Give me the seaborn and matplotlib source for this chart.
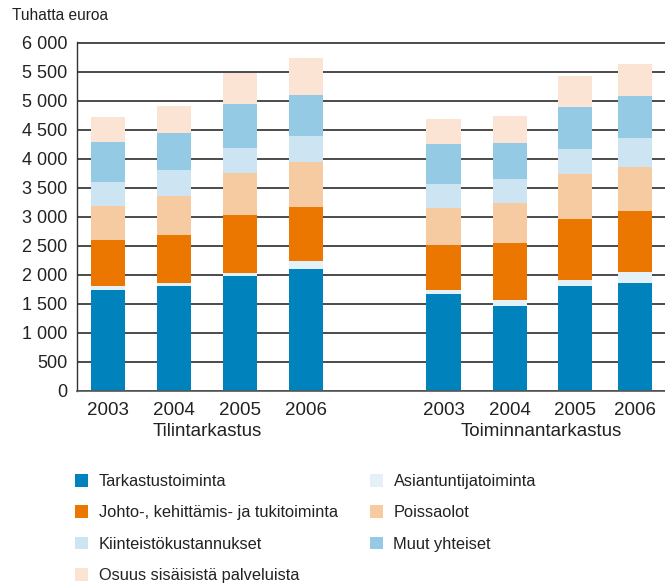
"""
Kustannukset toiminnoittain: Tilintarkastus ja Toiminnantarkastus 2003-2006
(pinottu pylväskaavio, tuhatta euroa)
"""

import numpy as np
import pandas as pd
import matplotlib
matplotlib.use("Agg")
import matplotlib.pyplot as plt
import seaborn as sns
from matplotlib.ticker import FuncFormatter
from matplotlib.patches import Patch

sns.set_theme(style="white")
plt.rcParams["font.family"] = ["Liberation Sans", "DejaVu Sans"]

# DATA (thousand euros)
# first four bars = Tilintarkastus 2003-2006, last four = Toiminnantarkastus 2003-2006
years = ["2003", "2004", "2005", "2006"]
groups = ["Tilintarkastus", "Toiminnantarkastus"]

tarkastus = [1740, 1805, 1980, 2100, 1665, 1460, 1805, 1855]
asiantuntija = [70, 50, 55, 140, 70, 105, 105, 190]
johto = [795, 835, 995, 935, 775, 985, 1050, 1050]
poissaolot = [575, 665, 725, 770, 640, 690, 780, 765]
kiinteisto = [425, 450, 435, 450, 415, 415, 425, 495]
muut = [690, 640, 755, 705, 690, 620, 725, 725]
osuus = [430, 465, 535, 640, 430, 465, 535, 550]

# stacking order, bottom -> top
series = [
    ("Tarkastustoiminta", tarkastus, "#0082bc"),
    ("Asiantuntijatoiminta", asiantuntija, "#e4f1f9"),
    ("Johto-, kehittämis- ja tukitoiminta", johto, "#ec7700"),
    ("Poissaolot", poissaolot, "#f7cba1"),
    ("Kiinteistökustannukset", kiinteisto, "#cde4f2"),
    ("Muut yhteiset", muut, "#95cae5"),
    ("Osuus sisäisistä palveluista", osuus, "#fce4d4"),
]
legend_order = [0, 2, 4, 6, 1, 3, 5]

# LAYOUT
W, H = 665, 585
x_pos = [0, 1, 2, 3, 5.09, 6.1, 7.09, 8]
bar_w = 0.52

df = pd.DataFrame({name: vals for name, vals, _ in series})
df["pos"] = x_pos
cum = df[[name for name, _, _ in series]].cumsum(axis=1)

fig = plt.figure(figsize=(W / 100, H / 100), dpi=100)
ax = fig.add_axes([77 / W, 1 - 390.7 / H, 1 - 77 / W, (390.7 - 41.5) / H])

width = bar_w / np.min(np.diff(x_pos))
for name, _, color in reversed(series):
    sns.barplot(x=df["pos"], y=cum[name], native_scale=True, orient="x",
                color=color, saturation=1, width=width, linewidth=0,
                errorbar=None, ax=ax)

ax.set_xlim(-0.47, 8.45)
ax.set_ylim(0, 6020)
ax.set_yticks(range(0, 6001, 500))
ax.yaxis.set_major_formatter(FuncFormatter(lambda v, _: f"{int(v):,}".replace(",", " ")))
ax.set_xticks(x_pos)
ax.set_xticklabels(years * 2)
ax.tick_params(axis="y", length=0, pad=7, labelsize=13, colors="#222222")
ax.tick_params(axis="x", length=0, pad=8, labelsize=13.5, colors="#222222")
ax.set_xlabel(""); ax.set_ylabel("")

ax.set_axisbelow(True)
ax.grid(axis="y", color="#1a1a1a", linewidth=1.1)
ax.grid(axis="x", visible=False)
for side in ["top", "right"]:
    ax.spines[side].set_visible(False)
ax.spines["left"].set_color("#333333")
ax.spines["bottom"].set_color("#555555")
ax.spines["left"].set_linewidth(1.0)
ax.spines["bottom"].set_linewidth(1.2)

# group labels under the years
for i, g in enumerate(groups):
    center = np.mean(x_pos[i * 4:(i + 1) * 4])
    xf = fig.transFigure.inverted().transform(ax.transData.transform((center, 0)))[0]
    fig.text(xf, 1 - 432 / H, g, ha="center", va="center", fontsize=13.5, color="#222222")

fig.text(11.5 / W, 1 - 15 / H, "Tuhatta euroa", ha="left", va="center", fontsize=11.2, color="#222222")

handles = [Patch(facecolor=series[i][2], edgecolor="none") for i in legend_order]
labels = [series[i][0] for i in legend_order]
fig.legend(handles, labels, ncol=2, loc="upper left", bbox_to_anchor=(75 / W, 1 - 474 / H),
           frameon=False, fontsize=11.8, handlelength=0.8, handleheight=0.8,
           handletextpad=0.65, labelspacing=1.0, columnspacing=1.95,
           borderpad=0, borderaxespad=0, labelcolor="#222222")

fig.savefig("out.png", dpi=100)
